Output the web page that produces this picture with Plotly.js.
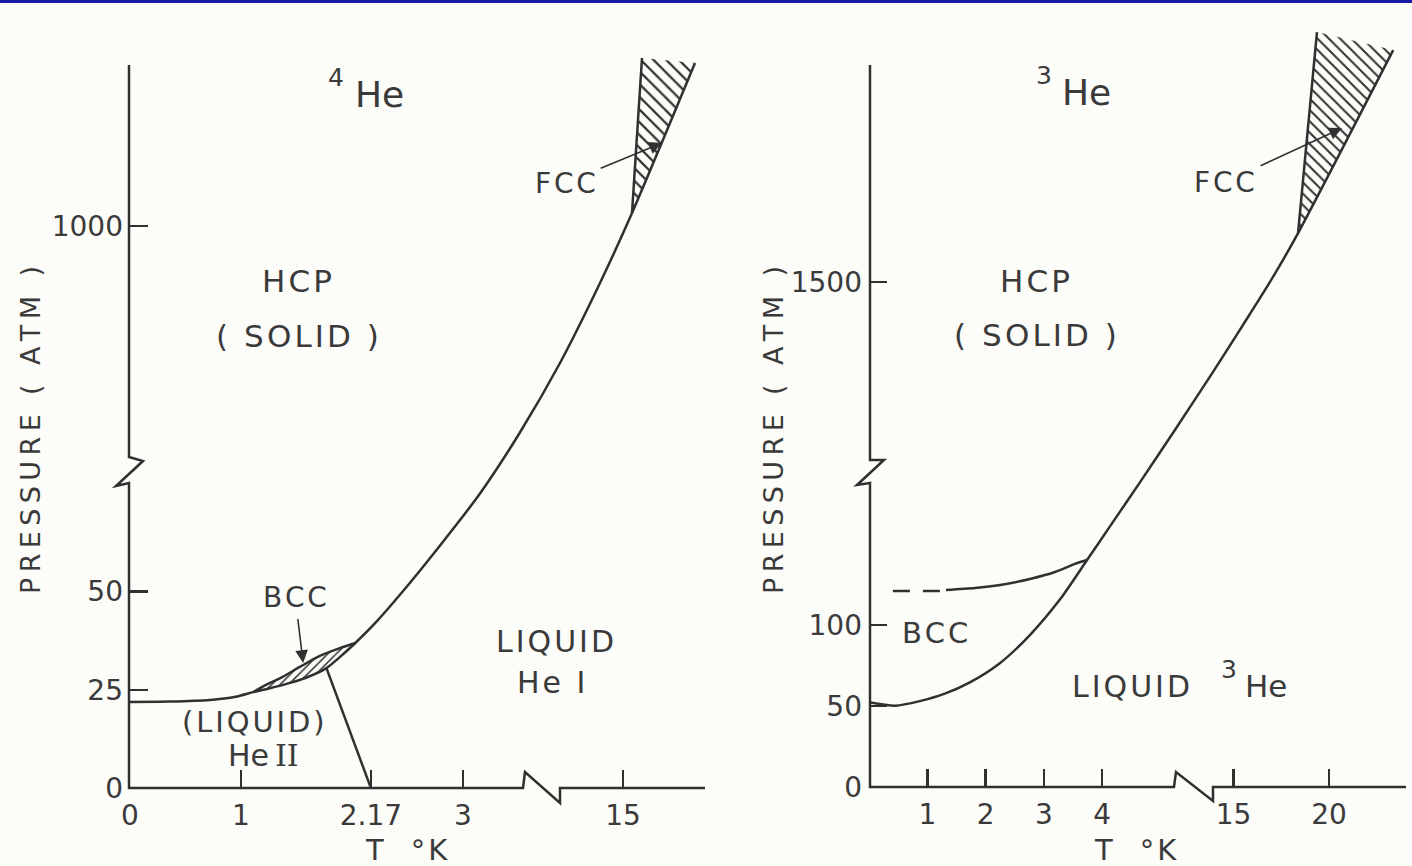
<!DOCTYPE html>
<html><head><meta charset="utf-8">
<script src="https://cdn.plot.ly/plotly-3.0.1.min.js"></script>
<style>body{margin:0;background:#fcfcf9}</style></head>
<body><div id="chart" style="width:1412px;height:866px"></div>
<script>
// ---------------- DATA (real units: T in K, P in atm) ----------------
// 4He melting curve (liquid / solid boundary)
const he4MeltT = [0, 0.36, 0.72, 0.95, 1.11, 1.26, 1.41, 1.58, 1.77, 1.89, 2.03, 2.21, 2.43, 2.79, 3.15, 3.51, 11.85, 13.85, 15.45, 18.6];
const he4MeltP = [21.9, 22.0, 22.4, 23.2, 24.4, 25.4, 26.5, 28.0, 30.5, 33.3, 36.9, 42.0, 49.1, 61.6, 74.8, 482.5, 657.5, 857.5, 1032.5, 1407.5];
// 4He BCC / HCP boundary (upper side of the BCC lens)
const he4BccT = [1.11, 1.22, 1.35, 1.53, 1.71, 1.89, 2.03];
const he4BccP = [24.4, 26.2, 27.9, 30.8, 33.6, 35.6, 36.9];
// lower side of the BCC lens (part of melting curve)
const he4BccLowT = [2.03, 1.89, 1.77, 1.58, 1.41, 1.26, 1.11];
const he4BccLowP = [36.9, 33.3, 30.5, 28.0, 26.5, 25.4, 24.4];
// lambda line
const he4LambdaT = [1.77, 2.17];
const he4LambdaP = [30.5, 0];
// FCC / HCP boundary
const he4FccT = [15.45, 15.95];
const he4FccP = [1032.5, 1420];
const he4FccTopT = [18.6];
const he4FccTopP = [1407.5];

// 3He melting curve
const he3MeltT = [0, 0.45, 0.87, 1.30, 1.73, 2.25, 2.76, 3.28, 3.74, 4.13, 4.65, 5.25, 13.93, 15.86, 17.17, 18.38, 23.36];
const he3MeltP = [52.3, 50.2, 53.0, 57.6, 64.6, 76.6, 93.8, 116.0, 140.1, 160.7, 188.2, 1007.7, 1200.3, 1393.3, 1527.7, 1663, 2273];
// 3He BCC / HCP boundary
const he3BccDashT = [0.41, 1.22];
const he3BccDashP = [121, 121];
const he3BccT = [1.32, 1.82, 2.25, 2.76, 3.19, 3.53, 3.74];
const he3BccP = [121.6, 122.8, 124.7, 128.4, 132.7, 137.7, 140.1];
// 3He FCC / HCP boundary
const he3FccT = [18.38, 19.37];
const he3FccP = [1663, 2333];
const he3FccTopT = [23.36];
const he3FccTopP = [2273];

// tick values and labels
const he4XTicks = [0, 1, 2.17, 3, 15];
const he4XLabels = ['0', '1', '2.17', '3', '15'];
const he4YTicks = [0, 25, 50, 1000];
const he4YLabels = ['0', '25', '50', '1000'];
const he3XTicks = [1, 2, 3, 4, 15, 20];
const he3XLabels = ['1', '2', '3', '4', '15', '20'];
const he3YTicks = [0, 50, 100, 1500];
const he3YLabels = ['0', '50', '100', '1500'];

// ---------------- broken-axis scales ----------------
// each axis is linear inside each segment; a gap separates the segments
const LX = T => T <= 8 ? 111 * T : 493 + 20 * (T - 15);
const LY = P => P <= 300 ? 3.93 * P : 562 + 0.4 * (P - 1000);
const RX = T => T <= 9 ? 58.3 * T : 364.5 + 19.1 * (T - 15);
const RY = P => P <= 500 ? 1.62 * P : 505 + 0.3 * (P - 1500);

const W = 1412, H = 866;
const INK = '#303030';
const TXT = '#3a3a3a';
const FONT = 'DejaVu Sans';
const sp = s => s.split('').join('\u200A');
const spw = s => s.split('').join('\u2009');

function line(T, P, left, extra) {
  const fx = left ? LX : RX, fy = left ? LY : RY;
  return Object.assign({
    x: T.map(fx), y: P.map(fy), xaxis: left ? 'x' : 'x2', yaxis: left ? 'y' : 'y2',
    type: 'scatter', mode: 'lines', line: {color: INK, width: 2.5, shape: 'spline', smoothing: 0.7},
    hoverinfo: 'skip', showlegend: false
  }, extra || {});
}
function hatch(T, P, left, shape, size, smooth) {
  return line(T, P, left, {
    fill: 'toself', fillcolor: 'rgba(0,0,0,0)',
    line: {width: 0, color: 'rgba(0,0,0,0)', shape: smooth ? 'spline' : 'linear', smoothing: 0.7},
    fillpattern: {shape: shape, size: size, solidity: 0.25, fgcolor: INK, bgcolor: 'rgba(0,0,0,0)'}
  });
}
const straight = {line: {color: INK, width: 2.5}};

const traces = [
  hatch(he4BccT.concat(he4BccLowT), he4BccP.concat(he4BccLowP), true, '/', 6, true),
  hatch(he4FccT.concat(he4FccTopT, [he4FccT[0]]), he4FccP.concat(he4FccTopP, [he4FccP[0]]), true, '\\', 9, false),
  hatch(he3FccT.concat(he3FccTopT, [he3FccT[0]]), he3FccP.concat(he3FccTopP, [he3FccP[0]]), false, '\\', 8, false),
  line(he4MeltT, he4MeltP, true),
  line(he4BccT, he4BccP, true),
  line(he4LambdaT, he4LambdaP, true, straight),
  line(he4FccT, he4FccP, true, straight),
  line(he3MeltT, he3MeltP, false),
  line(he3BccDashT, he3BccDashP, false, {line: {color: INK, width: 2.5, dash: '17px,13px'}}),
  line(he3BccT, he3BccP, false),
  line(he3FccT, he3FccP, false, straight)
];

function axis(domain, range, vals, labels, fmap, anchor, isX) {
  return {
    domain: domain, range: range, anchor: anchor, showline: false, showgrid: false, zeroline: false,
    ticks: 'inside', ticklen: 18, tickwidth: 2.5, tickcolor: INK,
    tickmode: 'array', tickvals: vals.map(fmap), ticktext: labels,
    tickfont: {family: FONT, size: 28, color: TXT}, ticklabelstandoff: isX ? 8 : 6,
    fixedrange: true
  };
}

// axis lines with break marks (pixel positions -> paper)
function pathFrom(pts) {
  return pts.map((p, i) => (i ? 'L' : 'M') + (p[0] / W).toFixed(5) + ',' + (1 - p[1] / H).toFixed(5)).join(' ');
}
const leftAxisPath = [[129, 65], [129, 457], [143, 461], [116, 486], [129, 483], [129, 788], [523, 788], [525, 772], [560, 803], [560, 788], [705, 788]];
const rightAxisPath = [[870, 65], [870, 460], [884, 460], [857, 485], [870, 483], [870, 787], [1174, 787], [1176, 772], [1213, 801], [1213, 787], [1406, 787]];

const shapes = [
  {type: 'path', xref: 'paper', yref: 'paper', path: pathFrom(leftAxisPath), line: {color: INK, width: 2.5}},
  {type: 'path', xref: 'paper', yref: 'paper', path: pathFrom(rightAxisPath), line: {color: INK, width: 2.5}},
  {type: 'rect', xref: 'paper', yref: 'paper', x0: 0, x1: 1, y0: 1 - 3 / H, y1: 1, fillcolor: '#1b1ba8', line: {width: 0}}
];

function lab(text, x, y, size, extra) {
  return Object.assign({
    text: text, xref: 'paper', yref: 'paper', x: x / W, y: 1 - y / H, xanchor: 'center', yanchor: 'middle',
    showarrow: false, font: {family: FONT, size: size, color: TXT}
  }, extra || {});
}
function arrowLab(text, left, T, P, ax, ay) {
  return {
    text: text, xref: left ? 'x' : 'x2', yref: left ? 'y' : 'y2',
    x: (left ? LX : RX)(T), y: (left ? LY : RY)(P), ax: ax, ay: ay,
    showarrow: true, arrowhead: 2, arrowsize: 1.6, arrowwidth: 1.6, arrowcolor: INK, standoff: 0, startstandoff: 4,
    font: {family: FONT, size: 28, color: TXT}
  };
}
const roman2 = '<span style="font-family:DejaVu Serif">II</span>';

const annotations = [
  // left panel
  lab('4', 336, 78, 25), lab('He', 379, 95, 36),
  lab(sp('HCP'), 297, 281, 31), lab(sp('( SOLID )'), 297, 336, 31),
  lab(sp('LIQUID'), 555, 641, 30), lab(sp('He I'), 551, 682, 30),
  lab(sp('(LIQUID)'), 253, 722, 29), lab('He\u2009' + roman2, 263, 755, 30),
  lab(spw('PRESSURE ( ATM )'), 30, 430, 27, {textangle: -90}),
  lab(sp('T  °K'), 406, 850, 29),
  arrowLab(sp('BCC'), true, 1.56, 31.8, -8, -66),
  arrowLab(sp('FCC'), true, 16.95, 1207.5, -97, 40),
  // right panel
  lab('3', 1044, 76, 25), lab('He', 1086, 92, 36),
  lab(sp('HCP'), 1035, 281, 31), lab(sp('( SOLID )'), 1035, 335, 31),
  lab(sp('BCC'), 935, 633, 29),
  lab(sp('LIQUID'), 1131, 686, 30), lab('3', 1229, 669, 25), lab('He', 1266, 686, 31),
  lab(spw('PRESSURE ( ATM )'), 773, 430, 27, {textangle: -90}),
  lab(sp('T  °K'), 1135, 850, 29),
  arrowLab(sp('FCC'), false, 20.68, 2013, -117, 54)
];

const layout = {
  width: W, height: H, margin: {l: 0, r: 0, t: 0, b: 0},
  paper_bgcolor: '#fcfcf9', plot_bgcolor: 'rgba(0,0,0,0)',
  showlegend: false,
  xaxis: axis([130 / W, 705 / W], [0, 575], he4XTicks, he4XLabels, LX, 'y', true),
  yaxis: axis([(H - 788) / H, (H - 20) / H], [0, 768], he4YTicks, he4YLabels, LY, 'x', false),
  xaxis2: axis([869 / W, 1408 / W], [0, 539], he3XTicks, he3XLabels, RX, 'y2', true),
  yaxis2: axis([(H - 787) / H, (H - 20) / H], [0, 767], he3YTicks, he3YLabels, RY, 'x2', false),
  shapes: shapes, annotations: annotations
};

Plotly.newPlot('chart', traces, layout, {staticPlot: true, displayModeBar: false});
</script></body></html>
